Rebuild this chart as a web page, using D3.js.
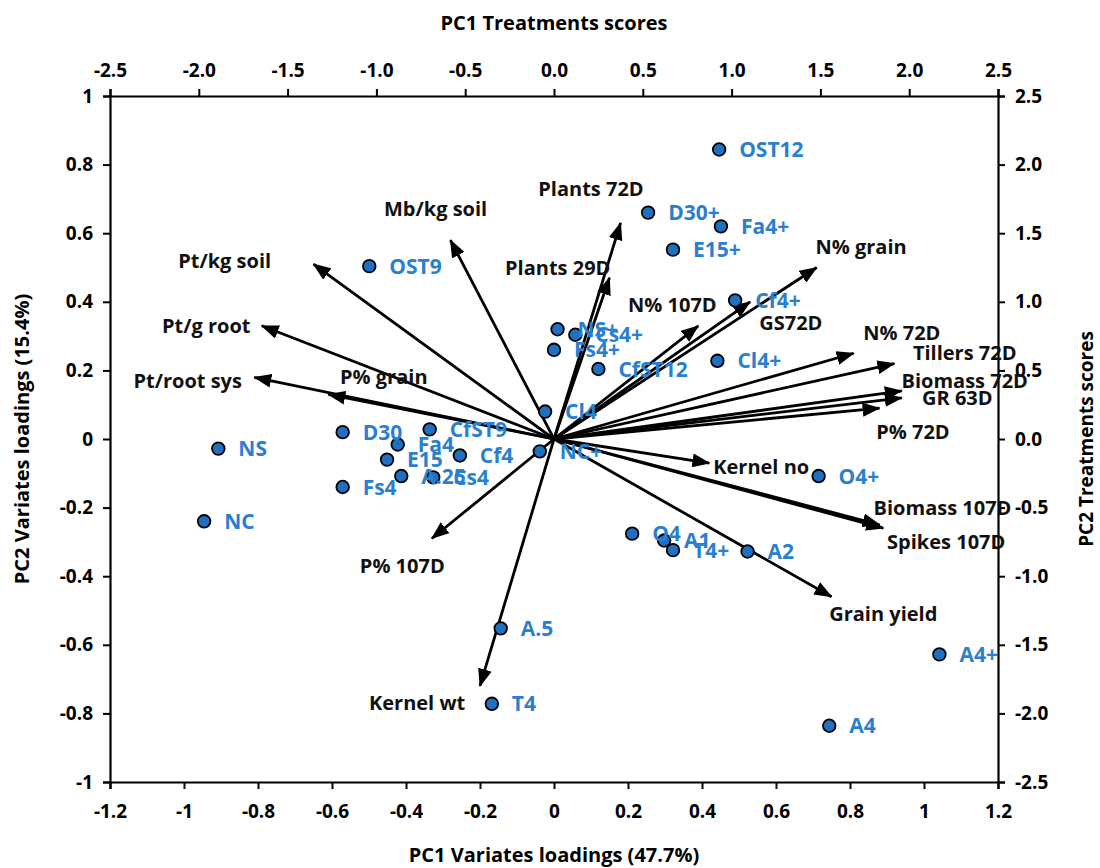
<!DOCTYPE html>
<html><head><meta charset="utf-8">
<script src="https://cdn.jsdelivr.net/npm/d3@7"></script>
<style>
html,body{margin:0;padding:0;background:#fff;}
svg text{font-family:"Open Sans",Lato,sans-serif;font-weight:bold;}
</style></head>
<body><svg id="chart" width="1100" height="868"></svg>
<script>
// ---- Treatments (scores) ----
const treatments = ["OST12","D30+","Fa4+","E15+","OST9","Cf4+","NS+","Cs4+","Fs4+","CfST12","Cl4+","Cl4","NC+","O4+","O4","A1","T4+","A2","A.5","T4","A4+","A4","NS","NC","D30","CfST9","Fa4","E15","Cf4","A.25","Cs4","Fs4"];
const scorePC1 = [0.93,0.53,0.94,0.67,-1.04,1.02,0.02,0.12,0.00,0.25,0.92,-0.05,-0.08,1.49,0.44,0.62,0.67,1.09,-0.30,-0.35,2.17,1.55,-1.89,-1.97,-1.19,-0.70,-0.88,-0.94,-0.53,-0.86,-0.68,-1.19];
const scorePC2 = [2.11,1.65,1.55,1.38,1.26,1.01,0.80,0.76,0.65,0.51,0.57,0.20,-0.09,-0.27,-0.69,-0.74,-0.81,-0.82,-1.38,-1.93,-1.57,-2.09,-0.07,-0.60,0.05,0.07,-0.04,-0.15,-0.12,-0.27,-0.28,-0.35];

// ---- Variates (loadings) ----
const variates = ["Pt/kg soil","Mb/kg soil","Plants 72D","Plants 29D","N% grain","N% 107D","GS72D","N% 72D","Tillers 72D","Biomass 72D","GR 63D","P% 72D","Kernel no","Biomass 107D","Spikes 107D","Grain yield","Kernel wt","P% 107D","P% grain","Pt/g root","Pt/root sys"];
const loadPC1 = [-0.65,-0.28,0.18,0.15,0.71,0.39,0.53,0.81,0.92,0.94,0.94,0.88,0.42,0.88,0.89,0.75,-0.20,-0.33,-0.61,-0.79,-0.81];
const loadPC2 = [0.51,0.58,0.63,0.47,0.50,0.33,0.40,0.25,0.22,0.14,0.12,0.09,-0.07,-0.25,-0.26,-0.46,-0.72,-0.29,0.13,0.33,0.18];
// label anchor (centre of text) in loading units
const varLabelX = [-0.89,-0.32,0.10,0.01,0.83,0.32,0.64,0.94,1.11,1.11,1.09,0.97,0.56,1.05,1.06,0.89,-0.37,-0.41,-0.46,-0.94,-0.99];
const varLabelY = [0.52,0.67,0.73,0.50,0.56,0.39,0.34,0.31,0.25,0.17,0.12,0.02,-0.08,-0.20,-0.30,-0.51,-0.77,-0.37,0.18,0.33,0.17];

// ---- Axes ----
const xLoadTicks = [-1.2,-1,-0.8,-0.6,-0.4,-0.2,0,0.2,0.4,0.6,0.8,1,1.2];
const yLoadTicks = [-1,-0.8,-0.6,-0.4,-0.2,0,0.2,0.4,0.6,0.8,1];
const scoreTicks = [-2.5,-2.0,-1.5,-1.0,-0.5,0.0,0.5,1.0,1.5,2.0,2.5];
const titles = {top:"PC1 Treatments scores", bottom:"PC1 Variates loadings (47.7%)", left:"PC2 Variates loadings (15.4%)", right:"PC2 Treatments scores"};

const svg = d3.select("#chart");
const L=110, R=998, T=96, B=782;
const x = d3.scaleLinear().domain([-1.2,1.2]).range([L,R]);
const y = d3.scaleLinear().domain([-1,1]).range([B,T]);
const xs = d3.scaleLinear().domain([-2.5,2.5]).range([L,R]);
const ys = d3.scaleLinear().domain([-2.5,2.5]).range([B,T]);

const fmtL = d => String(+d.toFixed(1));
const fmtS = d => d.toFixed(1);

function styleAxis(g){
  g.selectAll(".domain").attr("stroke","#000").attr("stroke-width",2.2);
  g.selectAll(".tick line").attr("stroke","#000").attr("stroke-width",2);
  g.selectAll(".tick text").attr("fill","#000").style("font-size","19px").style("font-weight","bold");
}
svg.append("g").attr("transform",`translate(0,${B})`)
  .call(d3.axisBottom(x).tickValues(xLoadTicks).tickFormat(fmtL).tickSizeOuter(0).tickSize(7).tickPadding(16)).call(styleAxis);
svg.append("g").attr("transform",`translate(${L},0)`)
  .call(d3.axisLeft(y).tickValues(yLoadTicks).tickFormat(fmtL).tickSizeOuter(0).tickSize(7).tickPadding(10)).call(styleAxis);
svg.append("g").attr("transform",`translate(0,${T})`)
  .call(d3.axisTop(xs).tickValues(scoreTicks).tickFormat(fmtS).tickSizeOuter(0).tickSize(7).tickPadding(12)).call(styleAxis);
svg.append("g").attr("transform",`translate(${R},0)`)
  .call(d3.axisRight(ys).tickValues(scoreTicks).tickFormat(fmtS).tickSizeOuter(0).tickSize(7).tickPadding(10)).call(styleAxis);

// titles
svg.append("text").attr("x",(L+R)/2).attr("y",30).attr("text-anchor","middle").style("font-size","20px").text(titles.top);
svg.append("text").attr("x",(L+R)/2).attr("y",862).attr("text-anchor","middle").style("font-size","20px").text(titles.bottom);
svg.append("text").attr("transform",`translate(29,${(T+B)/2}) rotate(-90)`).attr("text-anchor","middle").style("font-size","20px").text(titles.left);
svg.append("text").attr("transform",`translate(1093,${(T+B)/2}) rotate(-90)`).attr("text-anchor","middle").style("font-size","19px").text(titles.right);

// arrow marker
svg.append("defs").append("marker").attr("id","ah").attr("markerUnits","userSpaceOnUse")
  .attr("markerWidth",18).attr("markerHeight",14).attr("refX",17).attr("refY",7).attr("orient","auto")
  .append("path").attr("d","M0,0 L18,7 L0,14 Z").attr("fill","#000");

const vdata = variates.map((n,i)=>({n, lx:loadPC1[i], ly:loadPC2[i], tx:varLabelX[i], ty:varLabelY[i]}));
svg.append("g").selectAll("line").data(vdata).join("line")
  .attr("x1",x(0)).attr("y1",y(0))
  .attr("x2",d=>x(d.lx)).attr("y2",d=>y(d.ly))
  .attr("stroke","#000").attr("stroke-width",2.8).attr("marker-end","url(#ah)");

// points
const tdata = treatments.map((n,i)=>({n, sx:scorePC1[i], sy:scorePC2[i]}));
const pg = svg.append("g");
pg.selectAll("circle").data(tdata).join("circle")
  .attr("cx",d=>xs(d.sx)).attr("cy",d=>ys(d.sy)).attr("r",6.3)
  .attr("fill","#1f70c1").attr("stroke","#000").attr("stroke-width",1.8);
pg.selectAll("text").data(tdata).join("text")
  .attr("x",d=>xs(d.sx)+20).attr("y",d=>ys(d.sy)).attr("dy","0.36em")
  .attr("fill","#2a7fd0").style("font-size","21px").text(d=>d.n);

// variate labels
svg.append("g").selectAll("text").data(vdata).join("text")
  .attr("x",d=>x(d.tx)).attr("y",d=>y(d.ty)).attr("dy","0.36em").attr("text-anchor","middle")
  .attr("fill","#111").style("font-size","20px").text(d=>d.n);
</script></body></html>
